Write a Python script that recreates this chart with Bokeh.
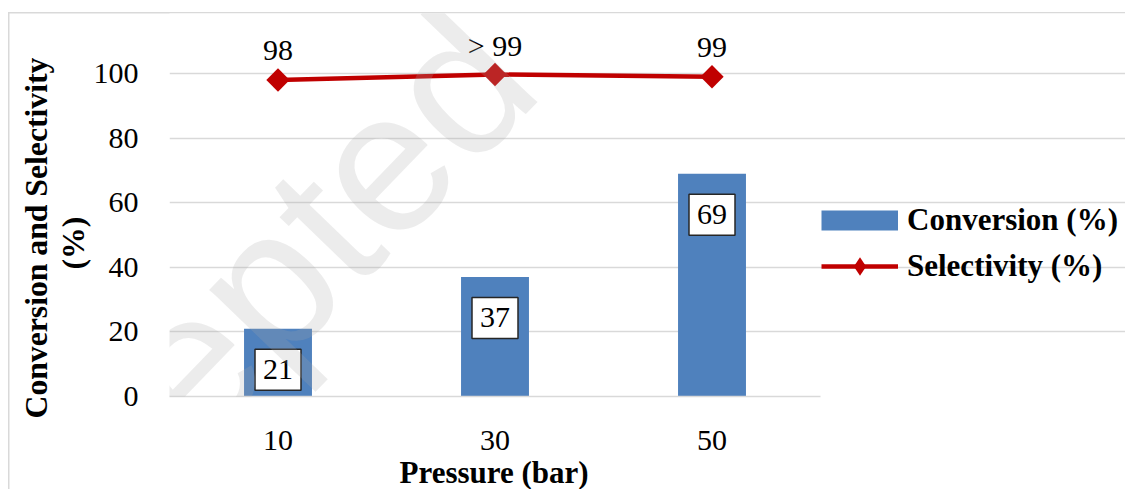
import math
from bokeh.plotting import figure
from bokeh.models import (ColumnDataSource, Range1d, FixedTicker, Label,
                          Legend, LegendItem, Title)
from bokeh.embed import file_html
from bokeh.resources import INLINE

# ---- data ----
pressure = ["10", "30", "50"]
conversion = [21, 37, 69]
selectivity = [98, 99.7, 99]
conversion_labels = ["21", "37", "69"]
selectivity_labels = ["98", "> 99", "99"]
y_ticks = [0, 20, 40, 60, 80, 100]

SERIF = "Liberation Serif"
BLUE = "#4f81bd"
RED = "#c00000"
GRID = "#d9d9d9"
NAN = float("nan")

# category slots: one unit per pressure; extra room on the right holds the legend
x_pos = [i + 0.5 for i in range(len(pressure))]
n_cat = len(pressure)

p = figure(width=1125, height=489,
           x_range=Range1d(0, 4.4055), y_range=Range1d(0, 118.58),
           output_backend="svg", toolbar_location=None,
           min_border_left=169, min_border_right=0,
           min_border_top=13, min_border_bottom=93)
p.outline_line_color = None
p.background_fill_color = "white"
p.border_fill_alpha = 0
# outer light-grey chart border (left and top edges visible in the picture)
p.styles = {"background": (
    "linear-gradient(#d9d9d9,#d9d9d9) 7.5px 12px / 1.5px 480px no-repeat, "
    "linear-gradient(#d9d9d9,#d9d9d9) 7.5px 12px / 1120px 1.5px no-repeat, white")}

# axes
yax = p.yaxis[0]
yax.ticker = FixedTicker(ticks=y_ticks)
p.ygrid.ticker = FixedTicker(ticks=y_ticks)
yax.axis_line_color = None
yax.major_tick_line_color = None
yax.minor_tick_line_color = None
yax.major_tick_out = 0
yax.major_tick_in = 0
yax.major_label_standoff = 31
yax.major_label_text_font = SERIF
yax.major_label_text_font_size = "30px"
yax.major_label_text_color = "black"

xax = p.xaxis[0]
xax.ticker = FixedTicker(ticks=x_pos)
xax.major_label_overrides = {x: lab for x, lab in zip(x_pos, pressure)}
xax.bounds = (0, n_cat)
xax.axis_line_color = GRID
xax.axis_line_width = 1.5
xax.major_tick_line_color = None
xax.minor_tick_line_color = None
xax.major_tick_out = 0
xax.major_tick_in = 0
xax.major_label_standoff = 34
xax.major_label_text_font = SERIF
xax.major_label_text_font_size = "30px"
xax.major_label_text_color = "black"

p.xgrid.grid_line_color = None
p.ygrid.grid_line_color = GRID
p.ygrid.grid_line_width = 1.5
p.ygrid.bounds = (0, n_cat)

# x-axis title, centred under the three categories
p.add_layout(Title(text="Pressure (bar)", align="left", offset=230, standoff=0,
                   text_font=SERIF, text_font_size="31px", text_font_style="bold",
                   text_color="black"), "below")

# y-axis title on two lines
for txt, so, off in (("(%)", 0, 127), ("Conversion and Selectivity", 0, -22)):
    p.add_layout(Title(text=txt, align="left", offset=off, standoff=so,
                       text_font=SERIF, text_font_size="31.7px", text_font_style="bold",
                       text_color="black"), "left")

src = ColumnDataSource(dict(x=x_pos, pressure=pressure, conversion=conversion,
                            selectivity=selectivity))
bars = p.vbar(x="x", top="conversion", width=0.313, source=src,
              fill_color=BLUE, line_color=None)
line = p.line(x="x", y="selectivity", source=src, line_color=RED, line_width=4.5)
pts = p.scatter(x="x", y="selectivity", source=src, marker="square",
                angle=math.pi / 4, size=16.5, fill_color=RED, line_color=None)

# legend keys (draw nothing in the plot itself)
conv_key = p.line(x=[NAN], y=[NAN], line_color=BLUE, line_width=20, line_cap="butt")
sel_key = p.scatter(x=[NAN], y=[NAN], marker="diamond", size=20,
                    fill_color=RED, line_color=None)

for x, v, t in zip(x_pos, conversion, conversion_labels):
    p.add_layout(Label(x=x, y=v, y_offset=-41, text=t, text_align="center",
                       text_baseline="middle", text_font=SERIF, text_font_size="30px",
                       text_color="black", background_fill_color="white",
                       border_line_color="#262626", border_line_width=1.5,
                       padding=dict(x=8, y=11)))

for x, v, t in zip(x_pos, selectivity, selectivity_labels):
    p.add_layout(Label(x=x, y=v, y_offset=29, text=t, text_align="center",
                       text_baseline="middle", text_font=SERIF, text_font_size="30px",
                       text_color="black"))

legend = Legend(items=[LegendItem(label="Conversion (%)", renderers=[conv_key]),
                       LegendItem(label="Selectivity (%)", renderers=[line, sel_key])],
                location=(652, 107), orientation="vertical",
                glyph_width=77, glyph_height=46, label_standoff=9, spacing=0,
                padding=0, margin=0, border_line_color=None, background_fill_alpha=0,
                label_text_font=SERIF, label_text_font_size="31px",
                label_text_font_style="bold", label_text_color="black")
p.add_layout(legend)

# watermark (only the part over the plot area is drawn)
p.add_layout(Label(x=-1.162, y=-76.7, text="Accepted", angle=math.radians(46),
                   text_align="left", text_baseline="alphabetic",
                   text_font="Liberation Sans", text_font_size="200px",
                   text_color="#a8a8a8", text_alpha=0.22))

open("out.html", "w").write(file_html(p, INLINE))
